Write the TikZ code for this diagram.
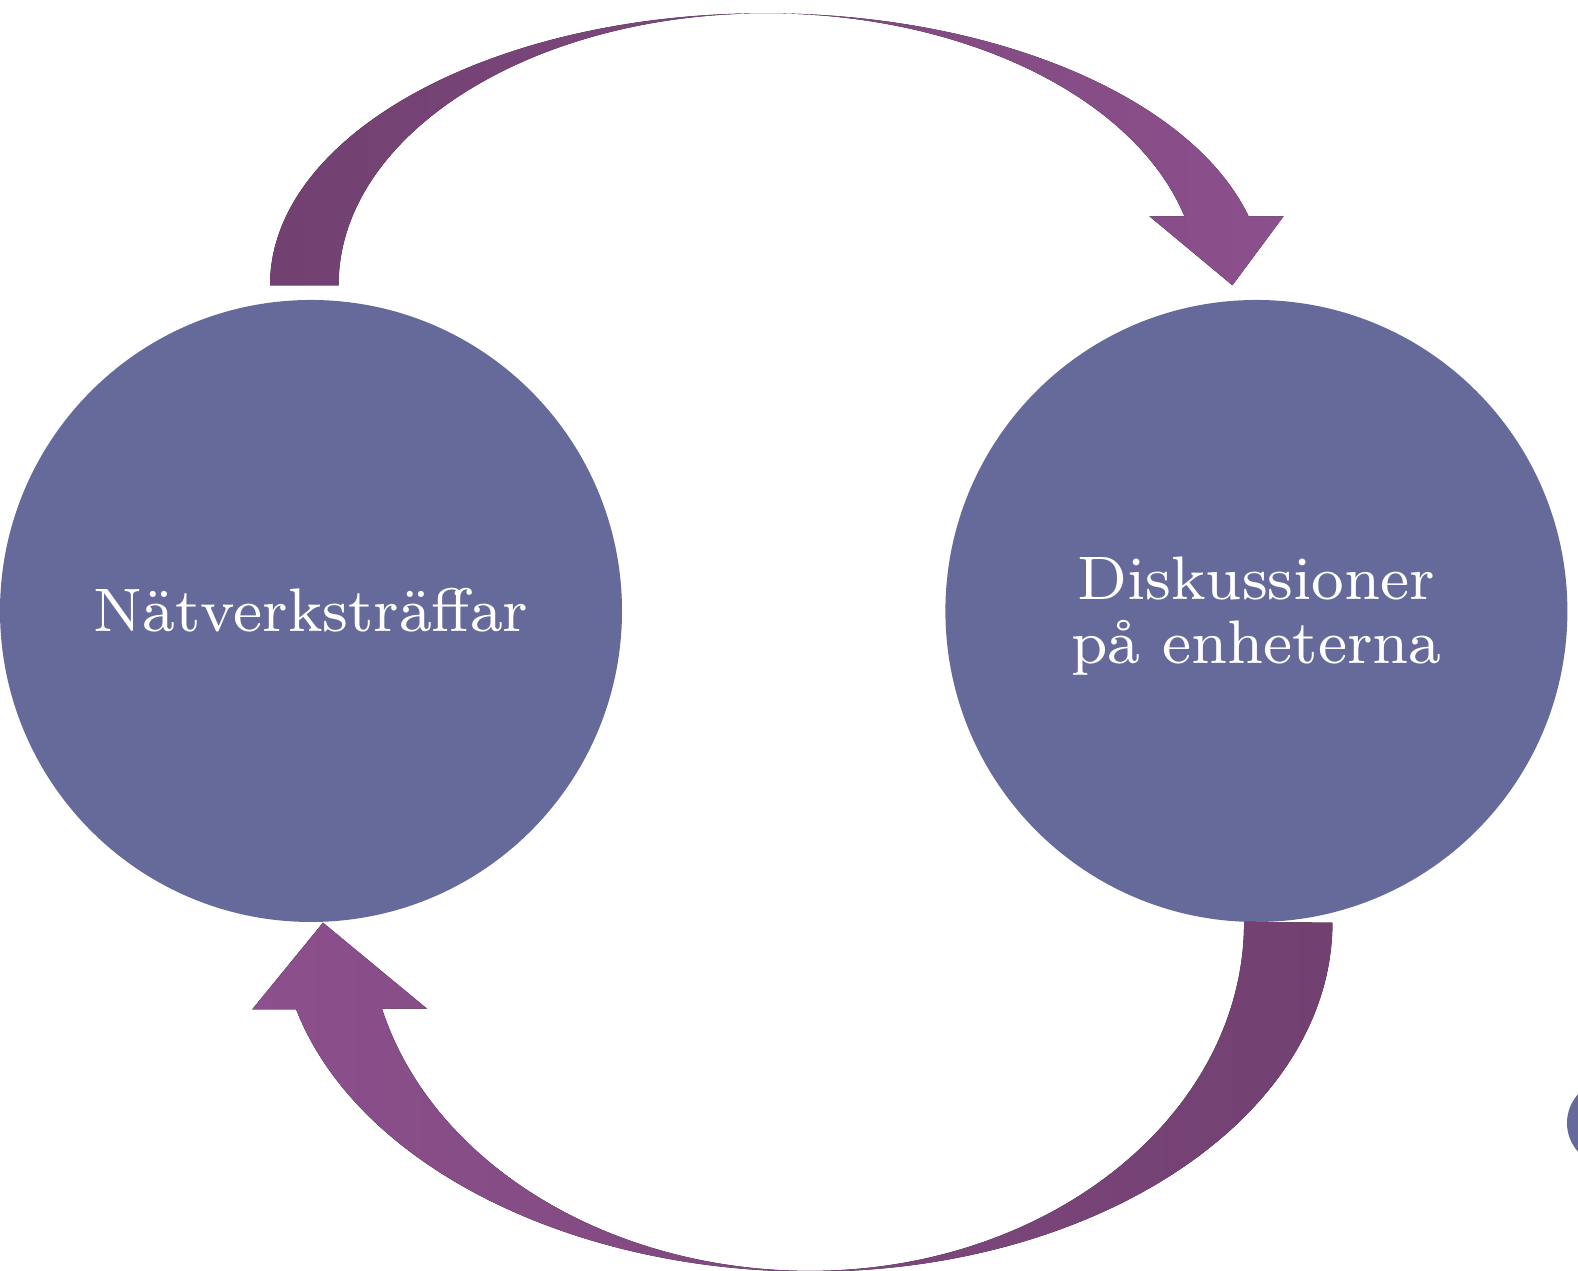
\documentclass[tikz,border=0pt]{standalone}
\usepackage{tikz}
\usetikzlibrary{
  calc,
  positioning
}
\definecolor{circblue}{RGB}{102,106,155}
\definecolor{loopdark}{RGB}{114,64,113}
\definecolor{looplight}{RGB}{140,80,140}
\newcommand{\circtext}[1]{\scalebox{2.1875}{\fontsize{8}{8.23}\selectfont\begin{tabular}{@{}c@{}}\rule{0pt}{7.84pt}#1\end{tabular}}}

\begin{document}
\begin{tikzpicture}[
      station/.style={
         circle,
         minimum size=62.2mm,
         inner sep=0pt,
         fill=circblue,
         text=white
      },
      forward loop/.style={
         left color=loopdark,
         right color=looplight
      },
      back loop/.style={
         left color=looplight,
         right color=loopdark
      }
    ]
    \useasboundingbox (0,0) rectangle (15.78,12.71);
    \clip (0,0) rectangle (15.78,12.71);
    \node (natverk) [station] at (3.11,6.60) {\circtext{Nätverksträffar}};
    \node (diskus) [station, right=3.22cm of natverk] {\circtext{Diskussioner\\på enheterna}};
    \node (extra) [circle, fill=circblue, inner sep=0pt, minimum size=8.6mm] at (16.10,1.48) {};
    \coordinate (topstart) at ($(natverk.north)+(-0.41,0.14)$);
    \coordinate (toptip) at ($(diskus.north)+(-0.24,0.14)$);
    \coordinate (botstart) at ($(diskus.south)+(0.76,0)$);
    \coordinate (bottip) at ($(natverk.south)+(0.12,0)$);
    \fill[forward loop] (topstart)
       arc[start angle=180, end angle=90, x radius=4.95, y radius=2.72]
       arc[start angle=90, end angle=14.7, x radius=5.00, y radius=2.72]
       -- ++(0.35,0) -- (toptip) -- ++(-0.83,0.69) -- ++(0.35,0)
       arc[start angle=14.7, end angle=90, x radius=4.32, y radius=2.72]
       arc[start angle=90, end angle=180, x radius=4.28, y radius=2.72] -- cycle;
    \fill[back loop] (botstart)
       arc[start angle=0, end angle=-90, x radius=5.21, y radius=3.49]
       arc[start angle=-90, end angle=-165.6, x radius=5.32, y radius=3.49]
       -- ++(-0.44,0) -- (bottip) -- ++(1.04,-0.86) -- ++(-0.45,0)
       arc[start angle=-165.6, end angle=-90, x radius=4.42, y radius=3.49]
       arc[start angle=-90, end angle=0, x radius=4.34, y radius=3.49] -- cycle;
\end{tikzpicture}
\end{document}
